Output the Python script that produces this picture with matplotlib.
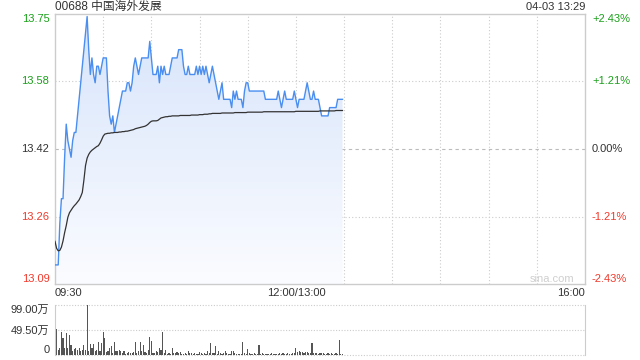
import matplotlib
matplotlib.use("Agg")
from matplotlib import pyplot as plt
from matplotlib.patches import Polygon
from matplotlib.colors import LinearSegmentedColormap
import numpy as np

plt.rcParams['font.family'] = ['Liberation Sans', 'Noto Sans CJK SC', 'DejaVu Sans']

# 00688 intraday, one value per minute from 09:30 to 13:29
prev_close = 13.42
axis_pct = 2.43

price = [
    13.14, 13.14, 13.14, 13.24, 13.30, 13.30, 13.40, 13.48, 13.44, 13.42,
    13.40, 13.44, 13.46, 13.46, 13.50, 13.54, 13.58, 13.62, 13.66, 13.70,
    13.74, 13.66, 13.60, 13.64, 13.60, 13.58, 13.62, 13.62, 13.60, 13.62,
    13.64, 13.64, 13.64, 13.56, 13.50, 13.48, 13.50, 13.46, 13.48, 13.50,
    13.52, 13.54, 13.56, 13.56, 13.56, 13.58, 13.58, 13.56, 13.58, 13.62,
    13.64, 13.62, 13.60, 13.62, 13.64, 13.64, 13.64, 13.64, 13.64, 13.68,
    13.64, 13.60, 13.60, 13.60, 13.62, 13.58, 13.62, 13.60, 13.62, 13.60,
    13.60, 13.60, 13.62, 13.64, 13.64, 13.64, 13.64, 13.66, 13.66, 13.66,
    13.62, 13.60, 13.60, 13.62, 13.60, 13.60, 13.60, 13.60, 13.62, 13.60,
    13.62, 13.60, 13.62, 13.60, 13.62, 13.60, 13.58, 13.60, 13.62, 13.60,
    13.58, 13.56, 13.54, 13.56, 13.58, 13.54, 13.54, 13.54, 13.54, 13.54,
    13.52, 13.56, 13.54, 13.56, 13.54, 13.54, 13.54, 13.52, 13.56, 13.58,
    13.58, 13.56, 13.56, 13.56, 13.56, 13.56, 13.56, 13.56, 13.56, 13.56,
    13.56, 13.54, 13.54, 13.54, 13.54, 13.54, 13.54, 13.54, 13.54, 13.56,
    13.54, 13.52, 13.54, 13.56, 13.54, 13.54, 13.54, 13.54, 13.54, 13.56,
    13.54, 13.52, 13.54, 13.54, 13.54, 13.54, 13.56, 13.58, 13.56, 13.54,
    13.54, 13.56, 13.54, 13.54, 13.54, 13.52, 13.50, 13.50, 13.50, 13.50,
    13.50, 13.52, 13.52, 13.52, 13.52, 13.52, 13.54, 13.54, 13.54, 13.54,
]

avg_price = [
    13.197, 13.180, 13.174, 13.175, 13.183, 13.198, 13.218, 13.235, 13.255, 13.266,
    13.272, 13.278, 13.283, 13.287, 13.292, 13.297, 13.305, 13.315, 13.345, 13.380,
    13.398, 13.407, 13.413, 13.417, 13.420, 13.423, 13.426, 13.428, 13.434, 13.442,
    13.451, 13.456, 13.457, 13.458, 13.458, 13.459, 13.459, 13.460, 13.460, 13.460,
    13.461, 13.461, 13.462, 13.462, 13.463, 13.463, 13.464, 13.465, 13.466, 13.467,
    13.469, 13.470, 13.471, 13.472, 13.473, 13.474, 13.475, 13.477, 13.480, 13.484,
    13.487, 13.488, 13.488, 13.488, 13.489, 13.492, 13.495, 13.496, 13.497, 13.498,
    13.498, 13.499, 13.499, 13.500, 13.500, 13.500, 13.500, 13.500, 13.501, 13.501,
    13.501, 13.501, 13.501, 13.501, 13.501, 13.502, 13.502, 13.502, 13.502, 13.502,
    13.503, 13.503, 13.503, 13.504, 13.504, 13.504, 13.505, 13.505, 13.506, 13.506,
    13.506, 13.506, 13.506, 13.506, 13.507, 13.507, 13.507, 13.507, 13.507, 13.507,
    13.507, 13.507, 13.508, 13.508, 13.508, 13.508, 13.508, 13.508, 13.508, 13.508,
    13.509, 13.509, 13.509, 13.509, 13.509, 13.509, 13.509, 13.509, 13.509, 13.509,
    13.510, 13.510, 13.510, 13.510, 13.510, 13.510, 13.510, 13.510, 13.510, 13.510,
    13.510, 13.510, 13.510, 13.510, 13.510, 13.510, 13.510, 13.510, 13.510, 13.510,
    13.511, 13.511, 13.511, 13.511, 13.511, 13.511, 13.511, 13.511, 13.511, 13.511,
    13.511, 13.511, 13.511, 13.511, 13.511, 13.512, 13.512, 13.512, 13.512, 13.512,
    13.512, 13.512, 13.512, 13.512, 13.512, 13.513, 13.513, 13.513, 13.513, 13.513,
]

# volume per minute, in 万 shares
volume = [
    81, 52, 10, 13, 46, 33, 13, 44, 13, 40,
    20, 8, 12, 14, 10, 14, 7, 10, 20, 10,
    99, 8, 21, 13, 21, 7, 10, 26, 8, 23,
    46, 33, 5, 8, 13, 18, 3, 25, 7, 8,
    9, 8, 3, 7, 2, 4, 5, 3, 3, 5,
    26, 3, 7, 25, 7, 20, 5, 3, 10, 36,
    27, 3, 3, 7, 5, 14, 10, 46, 3, 10,
    2, 3, 2, 14, 3, 3, 5, 3, 5, 2,
    2, 3, 1, 8, 3, 3, 2, 3, 2, 2,
    5, 3, 2, 3, 2, 7, 3, 23, 3, 3,
    18, 2, 8, 3, 2, 3, 8, 3, 2, 2,
    8, 8, 3, 2, 2, 2, 2, 25, 3, 2,
    11, 3, 2, 2, 3, 2, 2, 20, 2, 3,
    2, 2, 1, 2, 2, 3, 2, 2, 1, 2,
    3, 2, 4, 2, 2, 3, 2, 2, 3, 4,
    14, 5, 7, 5, 6, 4, 6, 5, 3, 4,
    23, 3, 4, 3, 2, 3, 4, 3, 2, 2,
    3, 2, 3, 2, 2, 3, 2, 30, 1, 1,
]

vol_max = 99.0
session_minutes = 330
time_labels = ['09:30', '12:00/13:00', '16:00']
time_label_pos = [0, 150, 330]
pct_labels = ['+2.43%', '+1.21%', '0.00%', '-1.21%', '-2.43%']
price_labels = ['13.75', '13.58', '13.42', '13.26', '13.09']

green = '#1aa01a'
red = '#f03a2c'
dark = '#333333'
grid_c = '#cccccc'

t = np.arange(len(price))
lo = prev_close * (1 - axis_pct / 100)
hi = prev_close * (1 + axis_pct / 100)
levels = [hi, prev_close * (1 + axis_pct / 200), prev_close,
          prev_close * (1 - axis_pct / 200), lo]

fig = plt.figure(figsize=(6.4, 3.6), dpi=100)
ax = fig.add_axes([55 / 640, 76 / 360, 530 / 640, 270 / 360])
axv = fig.add_axes([55 / 640, 5 / 360, 530 / 640, 50 / 360])

ax.set_xlim(0, session_minutes)
ax.set_ylim(lo, hi)

# gradient fill under price line
cmap = LinearSegmentedColormap.from_list('fill', ['#fbfcff', '#d6e4fb'])
grad = np.linspace(0, 1, 256).reshape(-1, 1)
im = ax.imshow(grad, extent=[0, session_minutes, lo, hi], origin='lower',
               cmap=cmap, aspect='auto', zorder=1)
verts = [(t[0], lo)] + list(zip(t, price)) + [(t[-1], lo)]
clip = Polygon(verts, closed=True, facecolor='none', edgecolor='none')
ax.add_patch(clip)
im.set_clip_path(clip)

for m in range(30, session_minutes, 30):
    ax.axvline(m, color=grid_c, lw=0.8, ls=(0, (1, 2)), zorder=0.5)
ax.axhline(levels[1], color=grid_c, lw=0.8, ls=(0, (1, 2)), zorder=0.5)
ax.axhline(levels[3], color=grid_c, lw=0.8, ls=(0, (1, 2)), zorder=0.5)
ax.axhline(prev_close, color='#bbbbbb', lw=0.8, ls=(0, (3, 3)), zorder=0.5)

ax.plot(t, price, color='#4a8ef0', lw=1.0, zorder=3)
ax.plot(t, avg_price, color='#333333', lw=0.9, zorder=3)

for s in ax.spines.values():
    s.set_color(grid_c)
    s.set_linewidth(1)

ax.set_xticks(time_label_pos)
ax.set_xticklabels(time_labels)
ax.tick_params(axis='x', length=0, pad=3, labelsize=8, labelcolor=dark)
xl = ax.get_xticklabels()
xl[0].set_ha('left')
xl[2].set_ha('right')

colors = [green, green, dark, red, red]
vas = ['top', 'center', 'center', 'center', 'bottom']
ax.set_yticks(levels)
ax.set_yticklabels(price_labels)
ax.tick_params(axis='y', length=0, pad=4, labelsize=8)
for lab, c, va in zip(ax.get_yticklabels(), colors, vas):
    lab.set_color(c)
    lab.set_va(va)

ax2 = ax.twinx()
ax2.set_ylim(lo, hi)
ax2.set_yticks(levels)
ax2.set_yticklabels(pct_labels)
ax2.tick_params(axis='y', length=0, pad=5, labelsize=8)
for lab, c, va in zip(ax2.get_yticklabels(), colors, vas):
    lab.set_color(c)
    lab.set_va(va)
for s in ax2.spines.values():
    s.set_visible(False)

# volume panel
axv.bar(t, volume, width=0.7, color='#555555', zorder=2)
axv.set_xlim(0, session_minutes)
axv.set_ylim(0, vol_max)
for s in ['top', 'bottom']:
    axv.spines[s].set_visible(False)
for s in ['left', 'right']:
    axv.spines[s].set_color(grid_c)
for yv in [0, vol_max / 2, vol_max]:
    axv.axhline(yv, color=grid_c, lw=0.8, ls=(0, (1, 1.5)), zorder=0.5, clip_on=False)
axv.set_xticks([])
axv.set_yticks([0, vol_max / 2, vol_max])
axv.set_yticklabels(['0', '%.2f万' % (vol_max / 2), '%.2f万' % vol_max])
axv.tick_params(axis='y', length=0, pad=4, labelsize=8, labelcolor=dark)
vl = axv.get_yticklabels()
vl[0].set_va('bottom')
vl[2].set_va('top')

fig.text(55 / 640, 1 - 7 / 360, '00688 中国海外发展', ha='left', va='center',
         fontsize=8.5, color=dark)
fig.text(585 / 640, 1 - 7 / 360, '04-03 13:29', ha='right', va='center',
         fontsize=8, color=dark)
fig.text(552 / 640, 1 - 279 / 360, 'sina.com', ha='center', va='center',
         fontsize=8, color='#cfcfcf')

fig.savefig('out.png', dpi=100)
